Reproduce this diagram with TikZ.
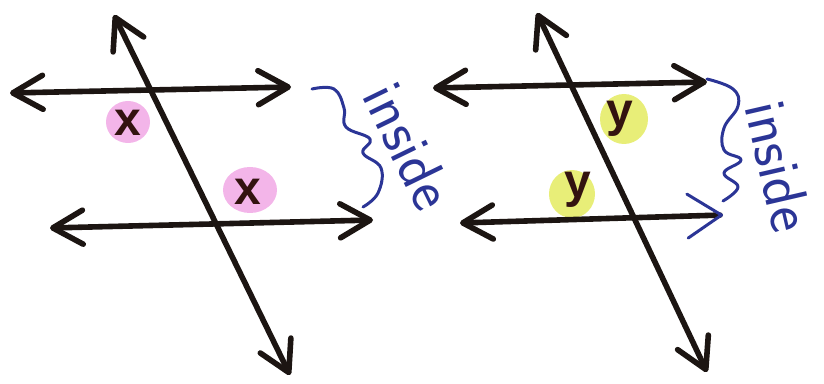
\documentclass[tikz,border=0pt]{standalone}
\usepackage{fontspec}
\newfontfamily\markfont{Liberation Sans}
\usetikzlibrary{arrows.meta}
\definecolor{ink}{HTML}{1C1512}
\definecolor{pen}{HTML}{2B3596}
\definecolor{pinkhl}{HTML}{F0A2E4}
\definecolor{yellowhl}{HTML}{E2EA56}
\tikzset{
  barb/.tip={Straight Barb[length=15pt,width=17pt,round]},
  penbarb/.tip={Straight Barb[length=17pt,width=22pt,round,color=pen,line width=1.5pt]},
  geo/line/.style={draw=ink, line width=2.8pt, line cap=round, barb-barb},
  geo/pen/.style={draw=pen, line width=1.5pt, line cap=round, line join=round},
  geo/mark/.style={font=\markfont\bfseries\fontsize{24}{24}\selectfont, text=ink!90!red, inner sep=0pt},
  geo/word/.style={font=\sffamily\fontsize{30}{30}\selectfont, text=pen, inner sep=0pt}
}
\begin{document}
\begin{tikzpicture}[x=0.5pt, y=-0.5pt]
  \useasboundingbox (0,0) rectangle (824,384);

  % left figure
  \coordinate (a1) at (10,93);   \coordinate (a2) at (291,87);
  \coordinate (b1) at (50,228);  \coordinate (b2) at (373,220);
  \coordinate (t1) at (114,15);  \coordinate (t2) at (290,375);

  \fill[pinkhl, opacity=.8] (128,122) ellipse (22 and 21);
  \fill[pinkhl, opacity=.8] (250,190) ellipse (27 and 23);
  \node[geo/mark] (x1) at (128,123) {x};
  \node[geo/mark] (x2) at (248,192) {x};

  \draw[geo/line] (a1) -- (a2);
  \draw[geo/line] (b1) -- (b2);
  \draw[geo/line] (t1) -- (t2);

  \draw[geo/pen] plot[smooth, tension=.7] coordinates
    {(312,89) (334,89) (344,108) (346,127) (370,139) (363,153) (381,168) (378,193) (363,207)};
  \node[geo/word, rotate=-64] (inL) at (409,146) {inside};

  % right figure
  \coordinate (c1) at (433,88);  \coordinate (c2) at (707,82);
  \coordinate (d1) at (460,223); \coordinate (d2) at (723,215);
  \coordinate (s1) at (537,13);  \coordinate (s2) at (707,372);

  \fill[yellowhl, opacity=.8] (624,119) ellipse (24 and 25);
  \fill[yellowhl, opacity=.8] (572,194) ellipse (23 and 24);
  \node[geo/mark] (y1) at (620,119) {y};
  \node[geo/mark] (y2) at (578,190) {y};

  \draw[geo/line] (c1) -- (c2);
  \draw[geo/line, barb-penbarb] (d1) -- (d2);
  \draw[geo/line] (s1) -- (s2);

  \draw[geo/pen] plot[smooth, tension=.7] coordinates
    {(707,79) (733,89) (738,106) (724,128) (724,150) (741,160) (724,173) (738,187) (723,201)};
  \node[geo/word, rotate=-77] (inR) at (779,166) {inside};
\end{tikzpicture}
\end{document}
